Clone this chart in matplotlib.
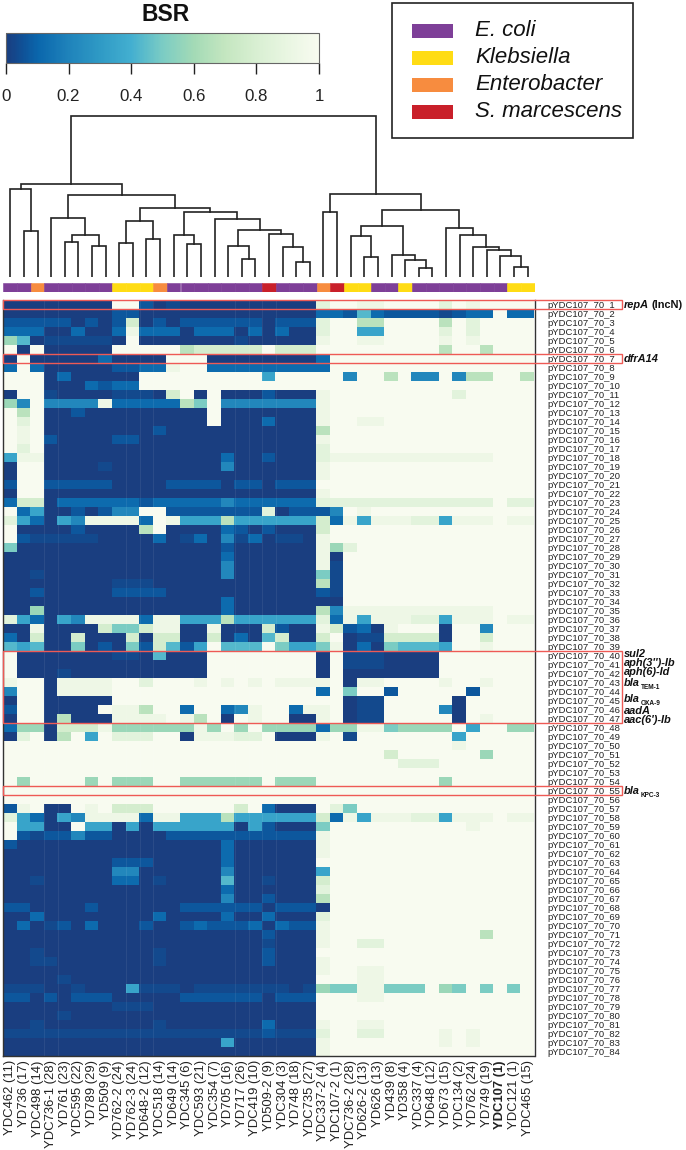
import numpy as np
import matplotlib
matplotlib.use("Agg")
from matplotlib import pyplot as plt
from matplotlib.cm import ScalarMappable
from matplotlib.colors import LinearSegmentedColormap, Normalize
from matplotlib.patches import Rectangle

plt.rcParams["font.family"] = ["Liberation Sans", "DejaVu Sans"]

strains = ["YDC462 (11)", "YD736 (17)", "YDC498 (14)", "YDC736-1 (28)", "YD761 (23)", "YDC595 (22)",
           "YD789 (29)", "YD509 (9)", "YD762-2 (24)", "YD762-3 (24)", "YD648-2 (12)", "YDC518 (14)",
           "YD649 (14)", "YDC345 (6)", "YDC593 (21)", "YDC354 (7)", "YD705 (16)", "YD717 (26)",
           "YDC419 (10)", "YD509-2 (9)", "YDC304 (3)", "YD748 (18)", "YDC735 (27)", "YDC337-2 (4)",
           "YDC107-2 (1)", "YDC736-2 (28)", "YD626-2 (13)", "YD626 (13)", "YD439 (8)", "YD358 (4)",
           "YDC337 (4)", "YD648 (12)", "YD673 (15)", "YDC134 (2)", "YD762 (24)", "YD749 (19)",
           "YDC107 (1)", "YDC121 (1)", "YDC465 (15)"]
genes = [f"pYDC107_70_{i}" for i in range(1, 85)]

# species of each column: P E. coli, Y Klebsiella, O Enterobacter, R S. marcescens
species = "PPOPPPPPYYYOPPPPPPPRPPPORYYPPYPPPPPPPYY"
species_names = ["E. coli", "Klebsiella", "Enterobacter", "S. marcescens"]
species_colors = {"P": "#7e3f98", "Y": "#ffdc14", "O": "#f78c3f", "R": "#c9202a"}

# BSR level of each cell, one character per column
levels = {"0": 0.0, "1": 0.035, "2": 0.07, "3": 0.12, "4": 0.22, "5": 0.35, "6": 0.43, "7": 0.5,
          "8": 0.58, "9": 0.67, "a": 0.78, "b": 0.86, "c": 0.93, "d": 1.0}
bsr_rows = [
    "00000000dd 2010000000 000bddccdd ddbdcdddd",
    "0000000022 0000000000 0003326322 221233d33",
    "222220202a 0202222220 222bdd99dd dd9dbdddd",
    "333003003c 3330333030 300bdd55dd ddbdbdddd",
    "860111110d 0000000100 000cddccdd ddcdcdddd",
    "d0d00000dd ddd9aaaaad aaaddddddd dd9dd9ddd",
    "0d00000300 00ddd00000 0003dddddd ddddddddd",
    "3d30000022 33cdd33333 3333dddddd ddddddddd",
    "ddd0300000 ddddddddd5 ddddd4dd9d 44d499dd9",
    "ddd0003233 dddddddddd dddddddddd ddddddddd",
    "0dd1000011 10ad0d0002 000cdddddd dddbddddd",
    "84d4444c33 33397d4444 444cdddddd ddddddddd",
    "d9d0020000 00000d0000 000cdddddd ddddddddd",
    "dbd0000000 00000d0003 000cddccdd ddddddddd",
    "dcd0000000 0200000000 0009dddddd ddddddddd",
    "dcd2000022 0000000000 000cdddddd ddddddddd",
    "dbd0000000 0000000000 000bdddddd ddddddddd",
    "5cc0000000 0000003002 000bcccccc ccccccddd",
    "0dd0000100 0000004000 000cdddddd ddddddddd",
    "0dd0000000 0000000000 000cdddddd ddddddddd",
    "2dd2222200 0022220220 222ddddddd ddddddddd",
    "0dd0000000 0000000000 000cdddddd ddddddddd",
    "3aa0333333 2333334333 333bbbbbbb bbbbbbdbb",
    "d350020244 dd2222222b 02224dcddd ddddddddd",
    "b53054cccc 3dc5559555 555a3c5ccc bb5cccdcc",
    "d000020000 9d00003202 000adddddd ddddddddd",
    "d211111000 0301304130 110cdddddd ddddddddd",
    "7000000000 0000002000 000c8bdddd ddddddddd",
    "0000000000 0000003000 000c0ddddd ddddddddd",
    "0000000000 0000004000 000c1ddddd ddddddddd",
    "0010000000 0000004000 00071ddddd ddddddddd",
    "0000000011 1000000000 00091ddddd ddddddddd",
    "0020000022 2200000000 00021ddddd ddddddddd",
    "0000000000 0000003000 00000ddddd ddddddddd",
    "0080000000 0000003000 00094ccccc ccccccddd",
    "b53054cccc 3cc5559555 555b3c5ccc bb5cccdcc",
    "00c0000a77 acc00c000a 200ca230cd dd0dd4ddd",
    "30a00a000a 0aa00a0306 a00ad011aa aa0ddaddd",
    "6560070207 2a625d666d 7557c03076 665ddcddd",
    "d000000011 06000ddddd ddd0d11100 00ddddddd",
    "d000000000 00000ddddd ddd0d11100 00ddddddd",
    "d000100000 00000ddddd ddd0d00000 00ddddddd",
    "cdd0ccccdd bdddcdcdcd ccccd0ccdd ddcddcddd",
    "4dd0ccccdd dddddddddd ddd3d7dd2d dddd2dddd",
    "0dd00000dd dddddddddd ddddd011dd ddd0ddddd",
    "2dd0000dcc 9dd3dd34cd d3ccd011dd dd40ddddd",
    "0dd09000cc ccdc9d0dcd d00cd011dd ddd0dcddd",
    "3880aaac88 8888c8d8d8 888388cc78 888d5dd88",
    "0bd09d5dbb bdd0cccbbd 000cd1dddd ddd5ddddd",
    "dddddddddd dddddddddd dddddddddd dddcddddd",
    "dddddddddd dddddddddd ddddddddad ddddd8ddd",
    "dddddddddd dddddddddd dddddddddb bbddddddd",
    "dddddddddd dddddddddd dddddddddd ddddddddd",
    "d8dddd8d88 8dd888888d 888ddddddd dd8dddddd",
    "dddddddddd dddddddddd dddddddddd ddddddddd",
    "dddddddddd dddddddddd dddddddddd ddddddddd",
    "2cd00dcdaa addddddad3 000db7dddd ddddddddd",
    "b53054cccc 3cc5559555 555a3c5ccc bb5cccdcc",
    "d5500d5505 0555555052 0007dddddd ddddcdddd",
    "d212242200 0022222222 222cdddddd ddddddddd",
    "2000000000 0000003000 000cdddddd ddddddddd",
    "0000000000 0000003000 000cdddddd ddddddddd",
    "0000000022 2000003000 000ddddddd ddddddddd",
    "0000000044 0000004000 0005dddddd ddddddddd",
    "0010000033 0100006001 000adddddd ddddddddd",
    "0000000000 0000003000 000bdddddd ddddddddd",
    "0000000000 0000004002 0009dddddd ddddddddd",
    "2200002000 0002222220 2220dddddd ddddddddd",
    "0030000000 0300003003 000bdddddd ddddddddd",
    "0301203000 2002322230 322cdddddd ddddddddd",
    "0000000000 0000000002 000cdddddd ddddd9ddd",
    "0000000000 0000000001 000cddbbdd ddddddddd",
    "0010000000 0100000002 000ddddddd ddddddddd",
    "0011000000 0100000002 000cdddddd ddddddddd",
    "0000000000 0000000000 000cddccdd ddddddddd",
    "0000100000 0000000000 000dddccdd ddddddddd",
    "1110010005 1110111111 101877cc77 7d87d7d7d",
    "2202022200 0002222220 222dddccdd ddddddddd",
    "0000000011 1000000000 000ddddddd ddddddddd",
    "0000100000 0000000000 000ddddddd ddddddddd",
    "0010000000 0100000003 000cddccdd ddddddddd",
    "1111111111 1111111112 111bddbbdd ddcdcdddd",
    "0000000000 0000005000 000cdddddd ddcdcdddd",
    "0000000000 0000000000 000cdddddd ddddddddd",
]

# dendrogram merges: leaf or earlier merge on each side, then height. Leaves are
# column numbers, merges are written as "m" + position in this list
merges = [
    (1, 2, 45.3), (0, "m0", 87.3), (4, 5, 35), (6, 7, 30.7), ("m2", "m3", 41.7), (3, "m4", 58.3),
    (8, 9, 33.7), (10, 11, 37.3), ("m6", "m7", 55.7), (13, 14, 32.3), (12, "m9", 42), (17, 18, 17.3),
    (16, "m11", 31), (21, 22, 15), (20, "m13", 29.3), (19, "m14", 43), ("m12", "m15", 46.7),
    (15, "m16", 57.3), ("m10", "m17", 64.7), ("m8", "m18", 68.3), ("m5", "m19", 82),
    ("m1", "m20", 92.3),
    (23, 24, 64.7), (26, 27, 19.3), (25, "m23", 41), (30, 31, 9), (29, "m25", 16.3), (28, "m26", 22),
    ("m24", "m27", 51), (37, 38, 10), (36, "m29", 20.7), (35, "m30", 27), (34, "m31", 29.7),
    (33, "m32", 42), (32, "m33", 49), ("m28", "m34", 67), ("m22", "m35", 82.7),
    ("m21", "m36", 160.7),
]

# gene marks: text and subscript
gene_marks = [("sul2", ""), ("aph(3'')-Ib", ""), ("aph(6)-Id", ""), ("bla", "TEM-1"),
              ("bla", "OXA-9"), ("aadA", ""), ("aac(6')-Ib", ""), ("dfrA14", ""), ("bla", "KPC-3")]
# first and last row of each red frame
frames = [(1, 1), (7, 7), (40, 47), (55, 55)]

bsr = np.array([[levels[c] for c in row.replace(" ", "")] for row in bsr_rows])

cmap = LinearSegmentedColormap.from_list("bsr", [
    (0.0, "#1a3e80"), (0.05, "#0f5096"), (0.1, "#0a66ac"), (0.2, "#1f83bb"), (0.3, "#2f9ac5"),
    (0.4, "#43afd0"), (0.5, "#7bccc4"), (0.6, "#a3dab6"), (0.7, "#c4e6c0"), (0.8, "#d8efd2"),
    (0.9, "#e9f6e2"), (1.0, "#f8fbf0")])

W, H = 686, 1150
fig = plt.figure(figsize=(W / 100, H / 100), dpi=100)


def px_axes(x0, y0, x1, y1):
    return fig.add_axes([x0 / W, 1 - y1 / H, (x1 - x0) / W, (y1 - y0) / H])


# heatmap
ax = px_axes(3.5, 300, 534.5, 1056)
ax.imshow(bsr, cmap=cmap, vmin=0, vmax=1, aspect="auto", interpolation="nearest")
ax.spines["top"].set_visible(False)
for lado in ["left", "right", "bottom"]:
    ax.spines[lado].set_color("#333333")
    ax.spines[lado].set_linewidth(1)
ax.yaxis.tick_right()
ax.set_yticks(range(len(genes)))
ax.set_yticklabels(genes, fontsize=6.8, color="#222222")
ax.set_xticks(range(len(strains)))
ax.set_xticklabels(strains, rotation=90, fontsize=9.4, color="#222222")
ax.tick_params(axis="both", length=0)
ax.tick_params(axis="y", pad=9)
ax.tick_params(axis="x", pad=3)
ax.get_xticklabels()[strains.index("YDC107 (1)")].set_fontweight("bold")
# faint seams between some columns
for col in [3, 4, 9, 10, 11, 17, 18, 19, 20]:
    ax.axvline(col - 0.5, color="white", lw=0.7, alpha=0.07)

# species strip
strip = px_axes(3.5, 282.7, 534.5, 291.7)
for i, s in enumerate(species):
    strip.bar(i, 1, width=1, color=species_colors[s], edgecolor=species_colors[s], linewidth=0.4)
strip.set_xlim(-0.5, len(species) - 0.5)
strip.set_ylim(0, 1)
strip.axis("off")

# dendrogram
den = px_axes(3.5, 110, 534.5, 276.7)
pos = {}
for n, (a, b, h) in enumerate(merges):
    xa, ya = pos[a] if a in pos else (a, 0)
    xb, yb = pos[b] if b in pos else (b, 0)
    den.plot([xa, xa, xb, xb], [ya, h, h, yb], color="#222222", lw=1.2, solid_joinstyle="miter")
    pos[f"m{n}"] = ((xa + xb) / 2, h)
den.set_xlim(-0.5, len(strains) - 0.5)
den.set_ylim(0, 166.7)
den.axis("off")

# colour key
cax = px_axes(6, 33.3, 319, 63.3)
cb = fig.colorbar(ScalarMappable(Normalize(0, 1), cmap), cax=cax, orientation="horizontal",
                  ticks=[0, 0.2, 0.4, 0.6, 0.8, 1])
cb.ax.set_xticklabels(["0", "0.2", "0.4", "0.6", "0.8", "1"], fontsize=12.2, color="#222222")
cb.ax.tick_params(length=7.7, width=1, pad=11, color="#222222")
cb.outline.set_edgecolor("#666666")
cb.outline.set_linewidth(0.8)

# overlay in picture pixels for frames and loose text
over = fig.add_axes([0, 0, 1, 1], zorder=5)
over.set_xlim(0, W)
over.set_ylim(H, 0)
over.axis("off")
over.patch.set_alpha(0)

over.text(166, 14.5, "BSR", fontsize=16.5, fontweight="bold", ha="center", va="center", color="#111111")

over.add_patch(Rectangle((391.7, 3), 241.6, 135, fill=False, ec="#222222", lw=1.2))
for i, (nombre, c) in enumerate(zip(species_names, "PYOR")):
    yc = 30.5 + 27.1 * i
    over.add_patch(Rectangle((412, yc - 7), 41, 14, fc=species_colors[c], ec="none"))
    over.text(475, yc, nombre, fontsize=16, style="italic", va="center", color="#111111")

for primera, ultima in frames:
    y0 = 300 + 9 * (primera - 1)
    y1 = 300 + 9 * ultima
    over.add_patch(Rectangle((3, y0), 619, y1 - y0, fill=False, ec="#ee5a55", lw=1))

gene_kw = dict(fontsize=7.9, fontweight="bold", style="italic", va="center", color="#111111")
over.text(624, 304.7, "repA", **gene_kw)
over.text(652, 304.7, "(IncN)", fontsize=7.9, fontweight="bold", va="center", color="#111111")
mark_y = [654, 663.3, 672.3, 683, 699, 711.2, 719.6, 359, 790.7]
for (texto, sub), yc in zip(gene_marks, mark_y):
    over.text(624, yc, texto, **gene_kw)
    if sub:
        over.text(640.7, yc + 4.5, sub, fontsize=4.7, fontweight="bold", va="center", color="#111111")

fig.savefig("out.png", dpi=100)
plt.close(fig)
